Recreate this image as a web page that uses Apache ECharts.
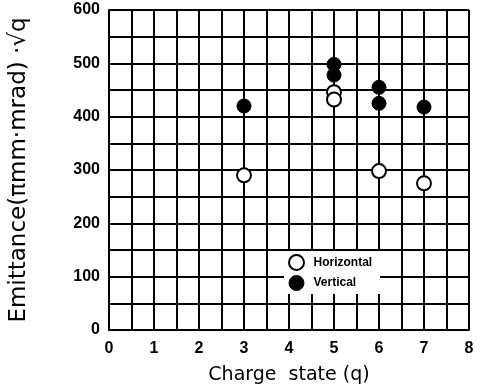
<!DOCTYPE html>
<html>
<head>
<meta charset="utf-8">
<script src="https://cdn.jsdelivr.net/npm/echarts@6/dist/echarts.min.js"></script>
<style>
  html, body { margin: 0; padding: 0; background: #fff; }
  #chart { width: 480px; height: 390px; }
</style>
</head>
<body>
<div id="chart"></div>
<script>
// charge state (q) and emittance values
var horizQ = [3, 5, 5, 6, 7];
var horizE = [290, 446, 432, 298, 275];
var vertQ = [3, 5, 5, 6, 6, 7];
var vertE = [420, 498, 478, 455, 425, 418];

function pairs(xs, ys) {
    return xs.map(function (x, i) { return [x, ys[i]]; });
}

var myChart = echarts.init(document.getElementById('chart'));

var option = {
    animation: false,
    backgroundColor: '#fff',
    grid: {
        left: 105,
        right: 11,
        top: 10,
        bottom: 57
    },
    legend: {
        orient: 'vertical',
        left: 284,
        top: 251,
        itemWidth: 16,
        itemHeight: 15,
        itemGap: 4,
        padding: [3, 8, 3, 4],
        backgroundColor: '#fff',
        data: [
            { name: 'Horizontal', itemStyle: { color: '#fff', borderColor: '#000', borderWidth: 2, opacity: 1 } },
            { name: 'Vertical', itemStyle: { color: '#000', borderColor: '#000', borderWidth: 1, opacity: 1 } }
        ],
        textStyle: {
            color: '#000',
            fontFamily: 'Liberation Sans',
            fontWeight: 'bold',
            fontSize: 12,
            padding: [0, 0, 0, 4]
        }
    },
    xAxis: {
        type: 'value',
        min: 0,
        max: 8,
        interval: 1,
        name: 'Charge  state (q)',
        nameLocation: 'middle',
        nameGap: 36,
        nameTextStyle: {
            color: '#000',
            fontFamily: 'DejaVu Sans',
            fontSize: 19
        },
        axisLine: { lineStyle: { color: '#000', width: 2 } },
        axisTick: { show: false },
        axisLabel: {
            color: '#000',
            fontFamily: 'Liberation Sans',
            fontWeight: 'bold',
            fontSize: 16,
            margin: 11
        },
        splitLine: { show: true, lineStyle: { color: '#000', width: 2 } },
        minorTick: { show: false, splitNumber: 2 },
        minorSplitLine: { show: true, lineStyle: { color: '#000', width: 2 } }
    },
    yAxis: {
        type: 'value',
        min: 0,
        max: 600,
        interval: 100,
        name: 'Emittance(πmm·mrad) ·√q',
        nameLocation: 'middle',
        nameGap: 78,
        nameTextStyle: {
            color: '#000',
            fontFamily: 'DejaVu Sans',
            fontSize: 23
        },
        axisLine: { show: true, lineStyle: { color: '#000', width: 2 } },
        axisTick: { show: false },
        axisLabel: {
            color: '#000',
            fontFamily: 'Liberation Sans',
            fontWeight: 'bold',
            fontSize: 16,
            margin: 9
        },
        splitLine: { show: true, lineStyle: { color: '#000', width: 2 } },
        minorTick: { show: false, splitNumber: 2 },
        minorSplitLine: { show: true, lineStyle: { color: '#000', width: 2 } }
    },
    series: [
        {
            name: 'Horizontal',
            type: 'scatter',
            symbol: 'circle',
            symbolSize: 14,
            z: 5,
            itemStyle: { color: '#fff', borderColor: '#000', borderWidth: 2, opacity: 1 },
            data: pairs(horizQ, horizE)
        },
        {
            name: 'Vertical',
            type: 'scatter',
            symbol: 'circle',
            symbolSize: 14,
            z: 5,
            itemStyle: { color: '#000', borderColor: '#000', borderWidth: 1, opacity: 1 },
            data: pairs(vertQ, vertE)
        }
    ]
};

option && myChart.setOption(option);
</script>
</body>
</html>
